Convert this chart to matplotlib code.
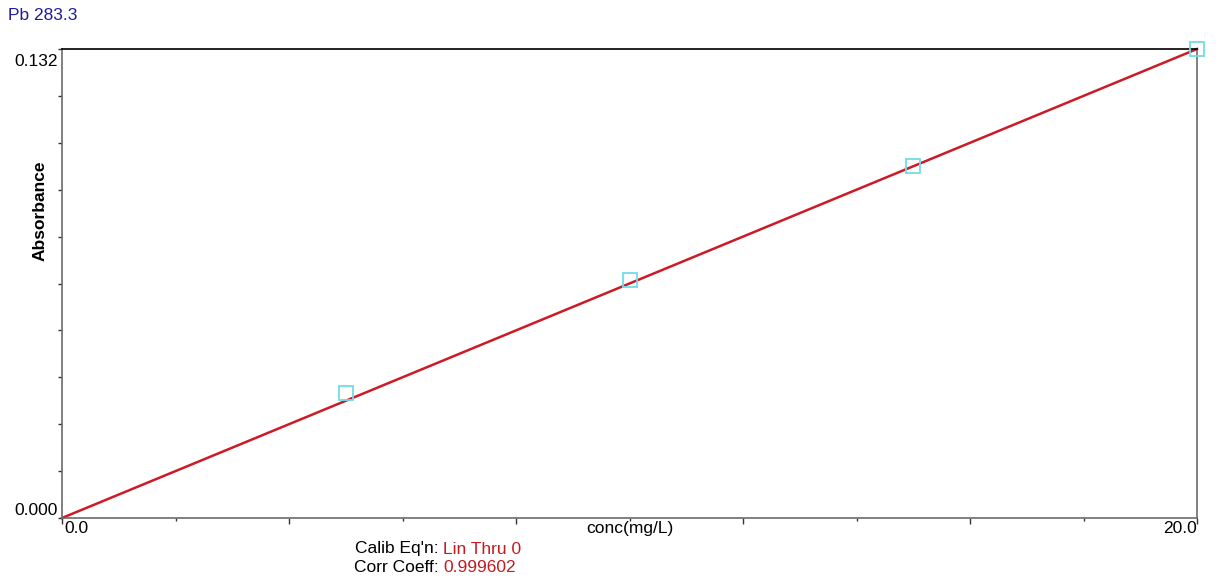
import numpy as np
import matplotlib
matplotlib.use("Agg")
import matplotlib.pyplot as plt
from matplotlib.ticker import MultipleLocator, NullFormatter

# calibration standards
conc = [5.0, 10.0, 15.0, 20.0]            # mg/L
absorb = [0.0352, 0.0670, 0.0991, 0.1320]  # absorbance
line_conc = [0.0, 20.0]
line_abs = [0.0, 0.1320]

element = "Pb 283.3"
calib_eq = "Lin Thru 0"
corr_coeff = "0.999602"

plt.rcParams["font.family"] = ["Liberation Sans", "DejaVu Sans"]

fig = plt.figure(figsize=(12.16, 5.76), dpi=100)
ax = fig.add_axes([62 / 1216, 1 - 518 / 576, (1197 - 62) / 1216, (518 - 49) / 576])

ax.plot(line_conc, line_abs, color="#cc1a26", lw=1.8, zorder=2, clip_on=False)
ax.plot(conc, absorb, ls="none", marker="s", ms=10, mfc="none", mec="#6fdde3",
        mew=1.3, zorder=3, clip_on=False)

ax.set_xlim(0, 20)
ax.set_ylim(0, 0.132)

ax.xaxis.set_major_locator(MultipleLocator(4))
ax.xaxis.set_minor_locator(MultipleLocator(2))
ax.yaxis.set_major_locator(MultipleLocator(0.0132))
ax.yaxis.set_minor_locator(MultipleLocator(0.0132))
ax.xaxis.set_major_formatter(NullFormatter())
ax.yaxis.set_major_formatter(NullFormatter())
ax.tick_params(axis="x", which="major", length=4.3, width=1, color="#333333")
ax.tick_params(axis="x", which="minor", length=2.2, width=1, color="#333333")
ax.tick_params(axis="y", which="both", length=3.2, width=1, color="#333333")

for s in ("left", "bottom", "right"):
    ax.spines[s].set_color("#6b6b6b")
ax.spines["top"].set_color("black")
for s in ax.spines.values():
    s.set_linewidth(1.2)

fs = 12.5
ax.text(-0.004, 0.1305, "0.132", transform=ax.get_yaxis_transform(), ha="right",
        va="top", fontsize=fs)
ax.text(-0.004, 0.0, "0.000", transform=ax.get_yaxis_transform(), ha="right",
        va="bottom", fontsize=fs)
ax.text(0.0025, -0.007, "0.0", transform=ax.transAxes, ha="left", va="top", fontsize=fs)
ax.text(1.0, -0.007, "20.0", transform=ax.transAxes, ha="right", va="top", fontsize=fs)
ax.text(10.0, -0.007, "conc(mg/L)", transform=ax.get_xaxis_transform(), ha="center",
        va="top", fontsize=fs)

fig.text(40 / 1216, 1 - 211 / 576, "Absorbance", rotation=90, ha="center", va="center",
         fontsize=fs, fontweight="bold")
fig.text(8 / 1216, 1 - 15 / 576, element, ha="left", va="center", fontsize=fs,
         color="#1c1c9c")

x_lab, x_val = 439 / 1216, 443 / 1216
for y_px, lab, val in [(549, "Calib Eq'n:", calib_eq), (567, "Corr Coeff:", corr_coeff)]:
    fig.text(x_lab, 1 - y_px / 576, lab, ha="right", va="center", fontsize=fs)
    fig.text(x_val, 1 - y_px / 576, val, ha="left", va="center", fontsize=fs, color="#c41a20")

fig.savefig("out.png", dpi=100)
